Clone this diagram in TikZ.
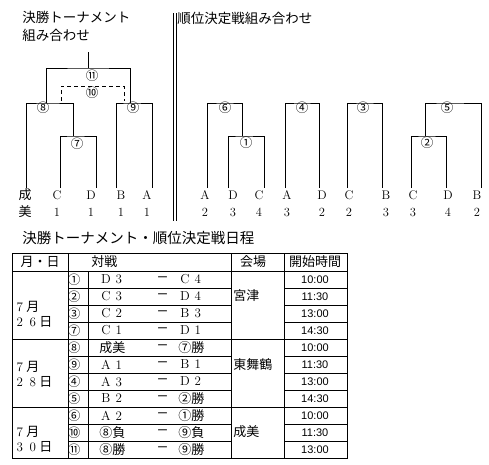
\documentclass[tikz,border=0pt]{standalone}
\usepackage{fontspec}
\newfontfamily\jp{Noto Sans CJK JP}
\newfontfamily\tmfont{Liberation Sans}
\newcommand\fw[1]{\makebox[13pt]{\rmfamily #1}}

\begin{document}
\begin{tikzpicture}[x=1pt,y=-1pt,line width=0.75pt,
    lbl/.style={inner sep=0pt,font=\jp\fontsize{13}{13}\selectfont},
    ttl/.style={inner sep=0pt,anchor=west,font=\jp\fontsize{13.5}{13.5}\selectfont},
    num/.style={inner sep=0pt,font=\jp\fontsize{12.5}{12.5}\selectfont},
    team/.style={inner sep=0pt,font=\fontsize{12.5}{12.5}\selectfont},
    cell/.style={inner sep=0pt,anchor=west,font=\jp\fontsize{13}{13}\selectfont},
    time/.style={inner sep=0pt,font=\tmfont\fontsize{11}{11}\selectfont}]

  \useasboundingbox (0,0) rectangle (489,464);

  % final tournament
  \node[ttl] (fin1) at (22,17) {決勝トーナメント};
  \node[ttl] (fin2) at (22,35) {組み合わせ};

  \coordinate (ls)  at (26,188);
  \coordinate (lc1) at (60,188);
  \coordinate (ld1) at (96,188);
  \coordinate (lb1) at (116,188);
  \coordinate (la1) at (152,188);
  \coordinate (j7)  at (73,136);
  \coordinate (j8)  at (46,103);
  \coordinate (j9)  at (130,103);
  \coordinate (j11) at (88,68);
  \coordinate (top) at (88,52);
  \coordinate (d8)  at (61,101);
  \coordinate (j10) at (92,86);
  \coordinate (d9)  at (124,101);

  \draw (lc1) |- (j7) -| (ld1);
  \draw (ls) |- (j8) -| (j7);
  \draw (lb1) |- (j9) -| (la1);
  \draw (j8) |- (j11) -| (j9);
  \draw (j11) -- (top);
  \draw[dash pattern=on 4pt off 3pt] (d8) |- (j10) -| (d9);

  \node[num] (m11) at (92,76) {⑪};
  \node[num] (m10) at (92,93) {⑩};
  \node[num] (m8) at (43,108) {⑧};
  \node[num] (m9) at (133,108) {⑨};
  \node[num] (m7) at (77,144) {⑦};

  \node[lbl] (seibi1) at (25,195) {成};
  \node[lbl] (seibi2) at (25,212) {美};
  \foreach \x/\t in {57/C,91/D,121/B,147/A} {
    \node[team] (t\t) at (\x,195) {\t};
    \node[team] (n\t) at (\x,212) {1};
  }

  % separator
  \draw (173,13) -- (173,221);
  \draw (176,13) -- (176,221);

  % placement matches
  \node[ttl] (rank) at (177,18) {順位決定戦組み合わせ};

  \coordinate (lA2) at (207,188);
  \coordinate (lD3) at (228,188);
  \coordinate (lC4) at (264,188);
  \coordinate (lA3) at (285,188);
  \coordinate (lD2) at (319,188);
  \coordinate (lC2) at (347,188);
  \coordinate (lB3) at (382,188);
  \coordinate (lC3) at (411,188);
  \coordinate (lD4) at (446,188);
  \coordinate (lB2) at (481,188);
  \coordinate (j1) at (242,136);
  \coordinate (j6) at (225,103);
  \coordinate (j4) at (302,103);
  \coordinate (j3) at (365,103);
  \coordinate (j2) at (425,136);
  \coordinate (j5) at (447,103);

  \draw (lD3) |- (j1) -| (lC4);
  \draw (lA2) |- (j6) -| (j1);
  \draw (lA3) |- (j4) -| (lD2);
  \draw (lC2) |- (j3) -| (lB3);
  \draw (lC3) |- (j2) -| (lD4);
  \draw (j2) |- (j5) -| (lB2);

  \node[num] (m6) at (225,108) {⑥};
  \node[num] (m1) at (246,143) {①};
  \node[num] (m4) at (302,108) {④};
  \node[num] (m3) at (363,108) {③};
  \node[num] (m2) at (427,143) {②};
  \node[num] (m5) at (447,108) {⑤};

  \foreach \x/\t/\n [count=\k] in {205/A/2,233/D/3,259/C/4,287/A/3,322/D/2,
      349/C/2,386/B/3,413/C/3,448/D/4,477/B/2} {
    \node[team] (r\k) at (\x,195) {\t};
    \node[team] (s\k) at (\x,212) {\n};
  }

  % schedule
  \node[ttl,font=\jp\fontsize{14.5}{14.5}\selectfont] (sched) at (22,238)
    {決勝トーナメント・順位決定戦日程};

  \draw (12,253) rectangle (347,458);
  \foreach \y in {271,339,407} \draw (12,\y) -- (347,\y);
  \draw (68,253) -- (68,458);
  \draw (88,271) -- (88,458);
  \draw (231,253) -- (231,458);
  \draw (284,253) -- (284,458);
  \foreach \y in {288,305,322,356,373,390,424,441} {
    \draw (68,\y) -- (231,\y);
    \draw (284,\y) -- (347,\y);
  }

  \node[lbl] (hdate) at (40,262) {月・日};
  \node[cell] (hgame) at (91,262) {対戦};
  \node[lbl] (hvenue) at (253,262) {会場};
  \node[lbl] (htime) at (315,262) {開始時間};

  \node[cell] (dt1) at (13,307) {\fw{7}月};
  \node[cell] (dd1) at (13,322) {\fw{2}\fw{6}日};
  \node[cell] (dt2) at (13,367) {\fw{7}月};
  \node[cell] (dd2) at (13,382) {\fw{2}\fw{8}日};
  \node[cell] (dt3) at (13,432) {\fw{7}月};
  \node[cell] (dd3) at (13,447) {\fw{3}\fw{0}日};

  \node[cell] (v1) at (233,296) {宮津};
  \node[cell] (v2) at (233,365) {東舞鶴};
  \node[cell] (v3) at (233,432) {成美};

  \foreach \i/\m/\a/\b/\t in {
      0/①/\fw{D}\fw{3}/\fw{C}\fw{4}/10:00,
      1/②/\fw{C}\fw{3}/\fw{D}\fw{4}/11:30,
      2/③/\fw{C}\fw{2}/\fw{B}\fw{3}/13:00,
      3/⑦/\fw{C}\fw{1}/\fw{D}\fw{1}/14:30,
      4/⑧/成美/⑦勝/10:00,
      5/⑨/\fw{A}\fw{1}/\fw{B}\fw{1}/11:30,
      6/④/\fw{A}\fw{3}/\fw{D}\fw{2}/13:00,
      7/⑤/\fw{B}\fw{2}/②勝/14:30,
      8/⑥/\fw{A}\fw{2}/①勝/10:00,
      9/⑩/⑧負/⑨負/11:30,
      10/⑪/⑧勝/⑨勝/13:00} {
    \node[num] (g\i) at (74,279.5+17*\i) {\m};
    \node[cell] (a\i) at (99,279.5+17*\i) {\a};
    \node[lbl,font=\jp\fontsize{11}{11}\selectfont] (v\i) at (162.5,279.5+17*\i) {ー};
    \node[cell] (b\i) at (178,279.5+17*\i) {\b};
    \node[time] (t\i) at (315,279.5+17*\i) {\t};
  }

\end{tikzpicture}
\end{document}
